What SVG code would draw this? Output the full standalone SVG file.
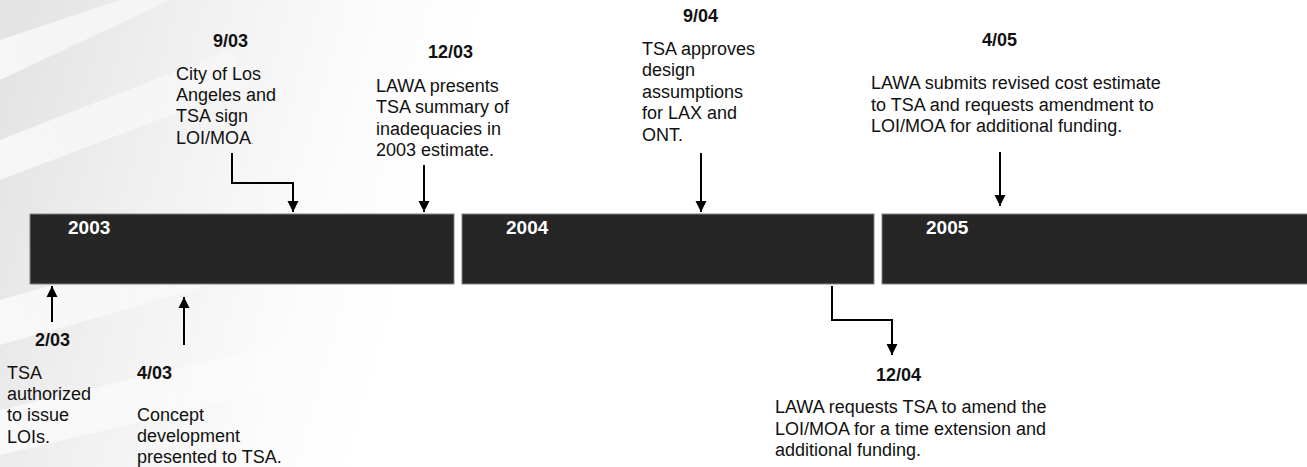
<svg xmlns="http://www.w3.org/2000/svg" width="1307" height="467" viewBox="0 0 1307 467">
  <defs>
    <style>
      .bar { fill: #262626; stroke: #808080; stroke-width: 1; }
      .year { font-family: "Liberation Sans", Arial, sans-serif; font-weight: bold; font-size: 19px; fill: #ffffff; }
      .date { font-family: "Liberation Sans", Arial, sans-serif; font-weight: bold; font-size: 18px; fill: #111111; }
      .body { font-family: "Liberation Sans", Arial, sans-serif; font-size: 18px; fill: #111111; }
      .conn { fill: none; stroke: #000000; stroke-width: 2; }
    </style>
    <marker id="arrow" markerUnits="userSpaceOnUse" markerWidth="12" markerHeight="12" viewBox="0 0 12 12" refX="11" refY="6" orient="auto">
      <path d="M0,0.5 L11,6 L0,11.5 Z" fill="#000000"/>
    </marker>
    <linearGradient id="bgfade" gradientUnits="userSpaceOnUse" x1="0" y1="120" x2="420" y2="240">
      <stop offset="0" stop-color="#e4e4e4"/>
      <stop offset="0.35" stop-color="#f0f0f0"/>
      <stop offset="0.75" stop-color="#fbfbfb"/>
      <stop offset="1" stop-color="#ffffff"/>
    </linearGradient>
    <linearGradient id="stripe" gradientUnits="userSpaceOnUse" x1="0" y1="0" x2="400" y2="0">
      <stop offset="0" stop-color="#ffffff" stop-opacity="0.7"/>
      <stop offset="1" stop-color="#ffffff" stop-opacity="0"/>
    </linearGradient>
  </defs>

  <rect x="0" y="0" width="1307" height="467" fill="url(#bgfade)"/>
  <g id="background">
    <path d="M0,40 L120,0 L170,0 L0,80 Z" fill="url(#stripe)"/>
    <path d="M0,140 L230,50 L250,85 L0,180 Z" fill="url(#stripe)"/>
    <path d="M0,300 L280,220 L300,260 L0,345 Z" fill="url(#stripe)"/>
    <path d="M0,410 L340,330 L360,370 L0,455 Z" fill="url(#stripe)"/>
  </g>

  <g id="bar-2003">
    <rect class="bar" x="30" y="214" width="424" height="70"/>
    <text class="year" x="68" y="234">2003</text>
  </g>
  <g id="bar-2004">
    <rect class="bar" x="462" y="214" width="412" height="70"/>
    <text class="year" x="506" y="234">2004</text>
  </g>
  <g id="bar-2005">
    <rect class="bar" x="882" y="214" width="440" height="70"/>
    <text class="year" x="926" y="234">2005</text>
  </g>

  <g id="event-0903">
    <text class="date" x="213" y="47">9/03</text>
    <text class="body" x="176" y="79.5">City of Los</text>
    <text class="body" x="176" y="101">Angeles and</text>
    <text class="body" x="176" y="122.3">TSA sign</text>
    <text class="body" x="176" y="143.7">LOI/MOA<tspan font-size="9" fill="#888888">.</tspan></text>
  </g>
  <g id="event-1203">
    <text class="date" x="428" y="58">12/03</text>
    <text class="body" x="376" y="92">LAWA presents</text>
    <text class="body" x="376" y="113.3">TSA summary of</text>
    <text class="body" x="376" y="134.7">inadequacies in</text>
    <text class="body" x="376" y="156">2003 estimate.</text>
  </g>
  <g id="event-0904">
    <text class="date" x="683" y="22">9/04</text>
    <text class="body" x="642" y="54.5">TSA approves</text>
    <text class="body" x="642" y="76">design</text>
    <text class="body" x="642" y="97.5">assumptions</text>
    <text class="body" x="642" y="119">for LAX and</text>
    <text class="body" x="642" y="140.5">ONT.</text>
  </g>
  <g id="event-0405">
    <text class="date" x="982" y="46">4/05</text>
    <text class="body" x="871" y="89.3">LAWA submits revised cost estimate</text>
    <text class="body" x="871" y="110.7">to TSA and requests amendment to</text>
    <text class="body" x="871" y="132">LOI/MOA for additional funding.</text>
  </g>
  <g id="event-0203">
    <text class="date" x="35" y="346">2/03</text>
    <text class="body" x="7" y="378.5">TSA</text>
    <text class="body" x="7" y="400">authorized</text>
    <text class="body" x="7" y="421.3">to issue</text>
    <text class="body" x="7" y="442.7">LOIs.</text>
  </g>
  <g id="event-0403">
    <text class="date" x="137" y="379">4/03</text>
    <text class="body" x="137" y="420.5">Concept</text>
    <text class="body" x="137" y="441.8">development</text>
    <text class="body" x="137" y="462.8">presented to TSA.</text>
  </g>
  <g id="event-1204">
    <text class="date" x="876" y="381">12/04</text>
    <text class="body" x="775" y="413.3">LAWA requests TSA to amend the</text>
    <text class="body" x="775" y="434.7">LOI/MOA for a time extension and</text>
    <text class="body" x="775" y="456">additional funding.</text>
  </g>

  <g id="connectors">
    <path class="conn" d="M232,153 V183 H293 V212" marker-end="url(#arrow)"/>
    <path class="conn" d="M424,165 V212" marker-end="url(#arrow)"/>
    <path class="conn" d="M701,153 V212" marker-end="url(#arrow)"/>
    <path class="conn" d="M1000,152 V206" marker-end="url(#arrow)"/>
    <path class="conn" d="M52,322 V286" marker-end="url(#arrow)"/>
    <path class="conn" d="M184,345 V297" marker-end="url(#arrow)"/>
    <path class="conn" d="M832,286 V320 H892 V355" marker-end="url(#arrow)"/>
  </g>
</svg>
